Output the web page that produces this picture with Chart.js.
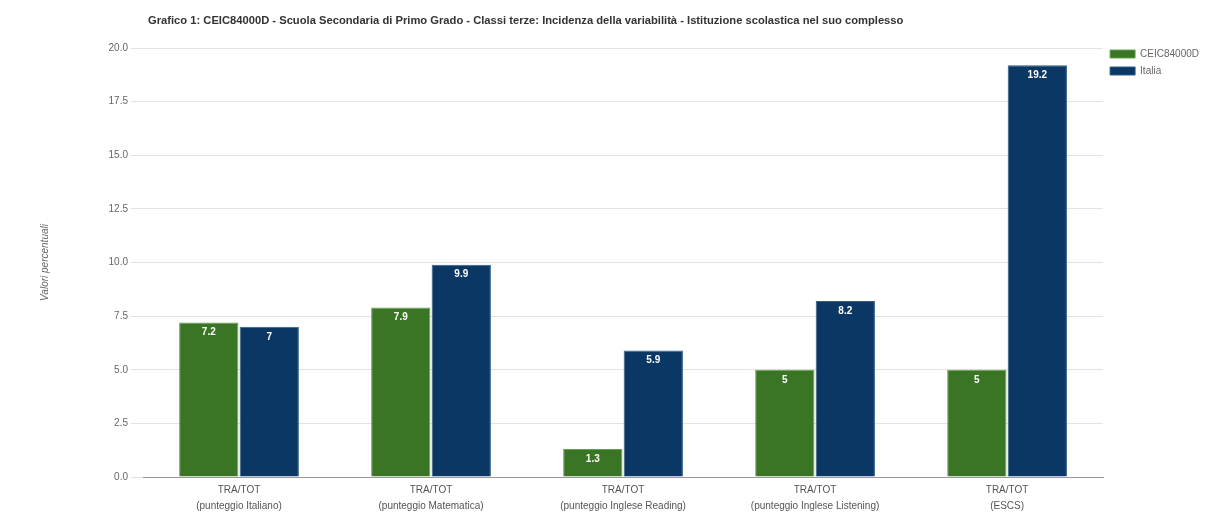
<!DOCTYPE html>
<html>
<head>
<meta charset="utf-8">
<script src="https://cdn.jsdelivr.net/npm/chart.js@4.4.1/dist/chart.umd.min.js"></script>
<style>
  html, body { margin: 0; padding: 0; background: #fff; }
  #wrap { width: 1209px; height: 513px; }
</style>
</head>
<body>
<div id="wrap"><canvas id="chart" width="1209" height="513"></canvas></div>
<script>
// Chart data
const categories = [
  ['TRA/TOT', '(punteggio Italiano)'],
  ['TRA/TOT', '(punteggio Matematica)'],
  ['TRA/TOT', '(punteggio Inglese Reading)'],
  ['TRA/TOT', '(punteggio Inglese Listening)'],
  ['TRA/TOT', '(ESCS)']
];
const schoolValues = [7.2, 7.9, 1.3, 5, 5];
const italiaValues = [7, 9.9, 5.9, 8.2, 19.2];
const seriesNames = ['CEIC84000D', 'Italia'];
const yTicks = [0, 2.5, 5, 7.5, 10, 12.5, 15, 17.5, 20];
const chartTitle = 'Grafico 1: CEIC84000D - Scuola Secondaria di Primo Grado - Classi terze: Incidenza della variabilità - Istituzione scolastica nel suo complesso';

const FONT = 'Arial, "Liberation Sans", sans-serif';

// Value labels inside the top of each bar, plus the title at the plot's left edge
const extras = {
  id: 'extras',
  afterDatasetsDraw(chart) {
    const ctx = chart.ctx;
    ctx.save();
    ctx.fillStyle = '#ffffff';
    ctx.font = 'bold 10px ' + FONT;
    ctx.textAlign = 'center';
    ctx.textBaseline = 'middle';
    chart.data.datasets.forEach((ds, i) => {
      chart.getDatasetMeta(i).data.forEach((bar, j) => {
        ctx.fillText(String(ds.data[j]), bar.x, bar.y + 10);
      });
    });
    ctx.restore();
  },
  afterDraw(chart) {
    const ctx = chart.ctx;
    ctx.save();
    ctx.fillStyle = '#333';
    ctx.font = 'bold 11.2px ' + FONT;
    ctx.textAlign = 'left';
    ctx.textBaseline = 'middle';
    ctx.fillText(chartTitle, chart.chartArea.left + 5, 21);
    ctx.restore();
  }
};

new Chart(document.getElementById('chart'), {
  type: 'bar',
  data: {
    labels: categories,
    datasets: [
      {
        label: seriesNames[0],
        data: schoolValues,
        backgroundColor: '#3a7425',
        borderColor: '#62a24a',
        borderWidth: 1,
        categoryPercentage: 0.63,
        barPercentage: 0.98
      },
      {
        label: seriesNames[1],
        data: italiaValues,
        backgroundColor: '#0b3765',
        borderColor: '#2f5c8a',
        borderWidth: 1,
        categoryPercentage: 0.63,
        barPercentage: 0.98
      }
    ]
  },
  options: {
    responsive: false,
    animation: false,
    layout: { padding: { top: 42, right: 0, bottom: 0, left: 0 } },
    plugins: {
      title: { display: false },
      legend: {
        position: 'right',
        align: 'start',
        labels: {
          boxWidth: 25,
          boxHeight: 8,
          color: '#666',
          font: { family: FONT, size: 10 },
          padding: 7
        }
      },
      tooltip: { enabled: false }
    },
    scales: {
      x: {
        afterFit(scale) {
          scale.height = 36;
        },
        grid: { display: false, drawTicks: false },
        border: { color: '#999', width: 1 },
        ticks: {
          color: '#555',
          font: { family: FONT, size: 10, lineHeight: 1.6 },
          maxRotation: 0,
          autoSkip: false,
          padding: 5
        }
      },
      y: {
        min: 0,
        max: 20,
        afterBuildTicks(scale) {
          scale.ticks = yTicks.map(v => ({ value: v }));
        },
        afterFit(scale) {
          scale.width = 143;
          scale.paddingTop = 48;
        },
        grid: { color: '#e2e2e2', tickLength: 12, tickColor: '#e2e2e2' },
        border: { display: false },
        ticks: {
          color: '#666',
          font: { family: FONT, size: 10 },
          padding: 3,
          callback: v => v.toFixed(1)
        },
        title: {
          display: true,
          text: 'Valori percentuali',
          color: '#666',
          font: { family: FONT, size: 10, style: 'italic' },
          padding: { top: 39, bottom: 0 }
        }
      }
    }
  },
  plugins: [extras]
});
</script>
</body>
</html>
